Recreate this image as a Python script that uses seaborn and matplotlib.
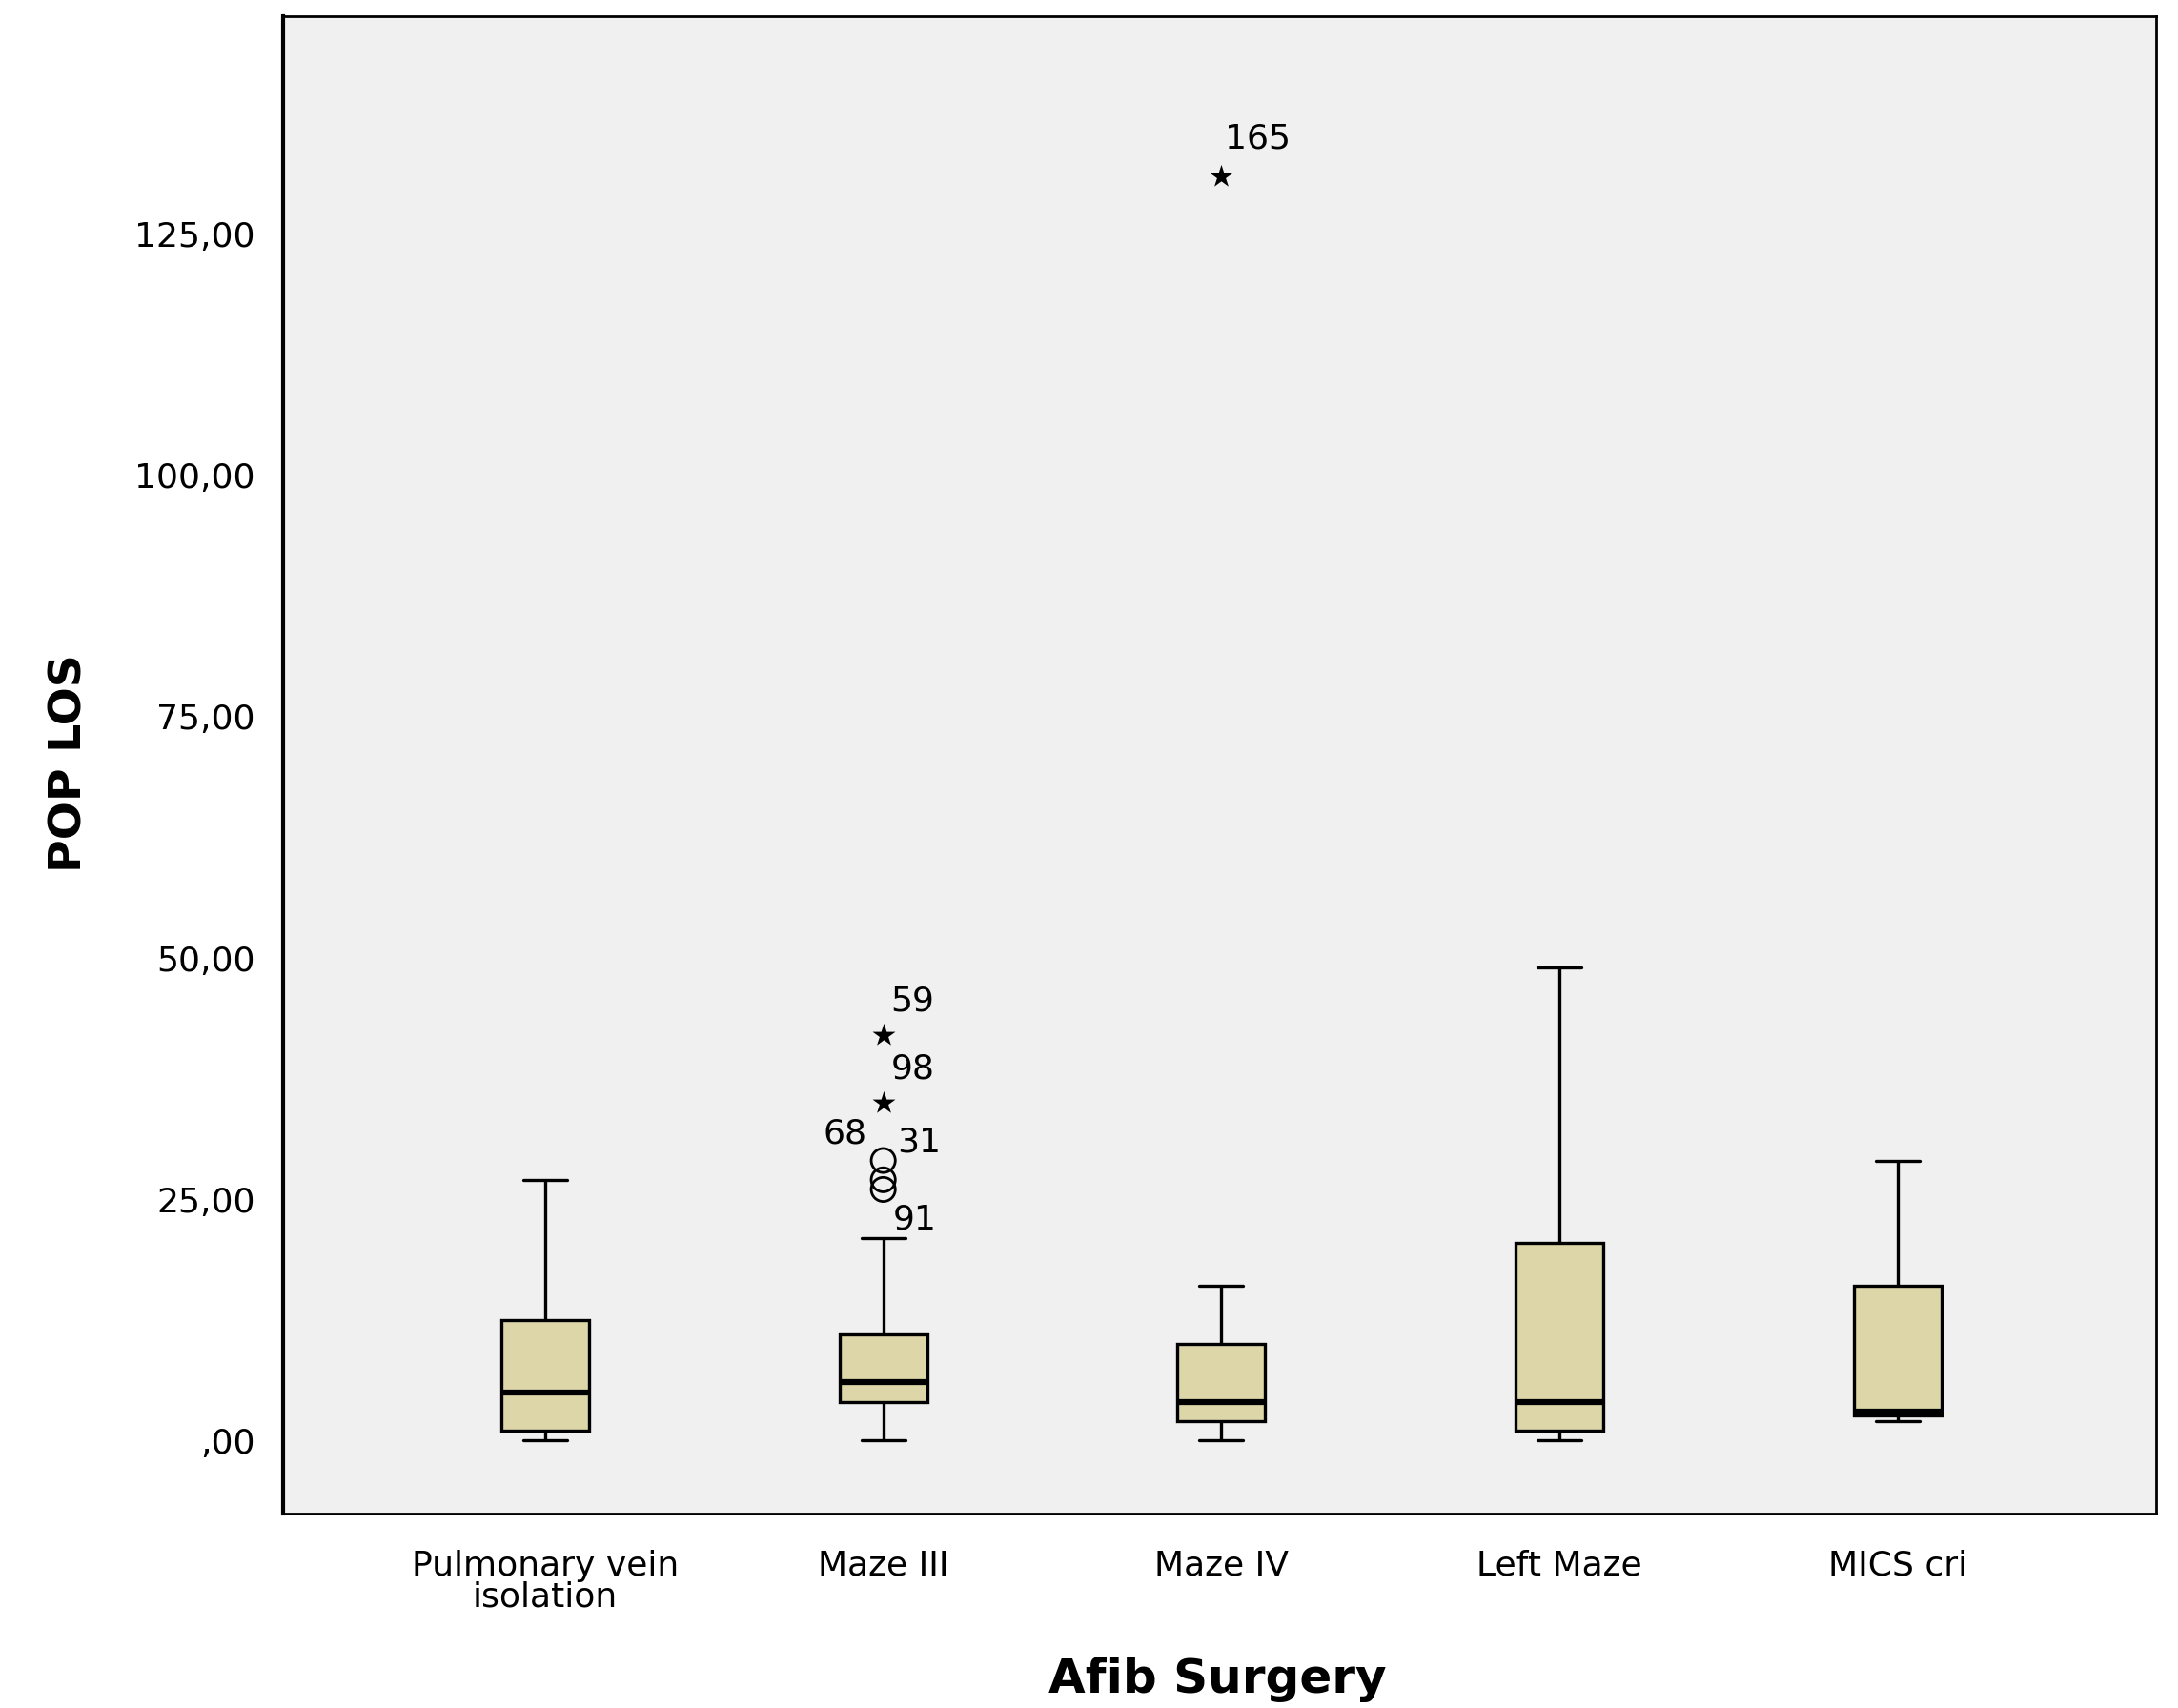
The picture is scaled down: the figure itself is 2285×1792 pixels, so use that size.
import numpy as np
import pandas as pd
import seaborn as sns
import matplotlib.pyplot as plt

# categories and post-op length of stay values
groups = ['Pulmonary vein\nisolation', 'Maze III', 'Maze IV', 'Left Maze', 'MICS cri']

pvi_los = [0, 1, 1, 3, 5, 8, 12.5, 18, 27]
maze3_los = [0, 1, 2, 3, 3, 4, 4, 4, 5, 5, 5, 6, 6, 6, 7, 8, 9, 10, 11, 21,
             26, 27, 29, 35, 42]
maze4_los = [0, 1, 2, 3, 4, 6, 10, 16, 131]
left_los = [0, 1, 1, 2, 4, 10, 20.5, 35, 49]
mics_los = [2, 2.5, 2.6, 2.8, 3, 8, 16, 22, 29]

# case numbers SPSS printed next to the outliers
case_ids = {
    'Maze III': {26: '91', 27: '68', 29: '31', 35: '98', 42: '59'},
    'Maze IV': {131: '165'},
}

ytick_vals = [0, 25, 50, 75, 100, 125]
ytick_labels = [',00', '25,00', '50,00', '75,00', '100,00', '125,00']

all_los = [pvi_los, maze3_los, maze4_los, left_los, mics_los]
df = pd.DataFrame({
    'Afib Surgery': [g for g, v in zip(groups, all_los) for _ in v],
    'POP LOS': [x for v in all_los for x in v],
})

sns.set_style('white')
plt.rcParams['font.family'] = ['DejaVu Sans']
plt.rcParams['text.color'] = 'black'
plt.rcParams['axes.labelcolor'] = 'black'
plt.rcParams['xtick.color'] = 'black'
plt.rcParams['ytick.color'] = 'black'

fig = plt.figure(figsize=(22.85, 17.92), dpi=100)
ax = fig.add_axes([0.130, 0.1138, 0.860, 0.8767])
ax.set_facecolor('#f0f0f0')

sns.boxplot(data=df, x='Afib Surgery', y='POP LOS', order=groups, color='#dcd6a8',
            saturation=1, width=0.26, showfliers=False, linecolor='black',
            linewidth=2.4, medianprops={'linewidth': 4.5}, ax=ax)

# outliers: circles beyond 1.5 IQR, stars beyond 3 IQR (SPSS style)
label_offsets = {'91': (10, -32), '68': (-17, 48), '31': (15, 19),
                 '98': (8, 35), '59': (8, 35), '165': (4, 40)}
for i, (g, vals) in enumerate(zip(groups, all_los)):
    q1, q3 = np.percentile(vals, [25, 75])
    iqr = q3 - q1
    for v in vals:
        if v > q3 + 3 * iqr:
            ax.scatter(i, v, marker='*', s=330, color='black', linewidths=0, zorder=5)
        elif v > q3 + 1.5 * iqr:
            ax.scatter(i, v, marker='o', s=330, facecolors='none', edgecolors='black',
                       linewidths=2, zorder=5)
        else:
            continue
        lab = case_ids.get(g, {}).get(v)
        if lab:
            dx, dy = label_offsets[lab]
            ax.annotate(lab, (i, v), xytext=(dx, dy), textcoords='offset pixels',
                        ha='right' if dx < 0 else 'left', va='center', fontsize=26,
                        color='black')

ax.set_xlim(-0.775, 4.765)
ax.set_ylim(-7.6, 147.6)
ax.set_yticks(ytick_vals)
ax.set_yticklabels(ytick_labels)

ax.tick_params(axis='both', length=18, width=2, color='black', labelcolor='black',
               direction='out', labelsize=26, pad=3)
ax.tick_params(axis='x', pad=9)
for lab in ax.get_xticklabels():
    lab.set_linespacing(0.95)
for s in ax.spines.values():
    s.set_visible(True)
    s.set_color('black')
    s.set_linewidth(2)
ax.spines['left'].set_linewidth(3)

ax.set_xlabel('Afib Surgery', fontsize=36, fontweight='bold', color='black')
ax.set_ylabel('POP LOS', fontsize=34, fontweight='bold', color='black')
ax.xaxis.set_label_coords(0.499, -0.0955)
ax.yaxis.set_label_coords(-0.1025, 0.501)

fig.savefig('out.png', dpi=100)
